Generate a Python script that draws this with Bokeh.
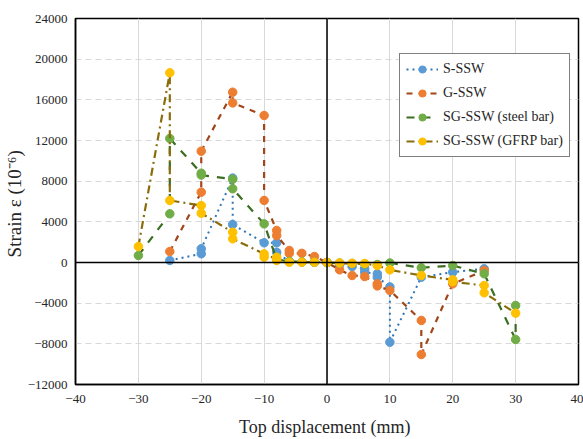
from bokeh.plotting import figure
from bokeh.models import FixedTicker, Span, Legend, LegendItem
from bokeh.embed import file_html
from bokeh.resources import INLINE

# ---- data ----
s_x = [-25, -20, -20, -15, -15, -10, -8, -8, -6, -4, -2, 0, 2, 4, 6, 6, 8, 8, 10, 10, 15, 20, 25]
s_y = [200, 860, 1350, 8300, 3740, 1940, 1940, 1000, 100, 50, 30, 0, -200, -400, -620, -950, -1110, -1440, -2400, -7840, -1440, -950, -620]

g_x = [-25, -20, -20, -15, -15, -10, -10, -8, -8, -6, -6, -4, -2, 0, 2, 4, 6, 8, 8, 10, 15, 15, 20, 25]
g_y = [1080, 6920, 10950, 16750, 15700, 14460, 6100, 3150, 2650, 1180, 900, 900, 590, 0, -720, -1280, -1380, -2100, -2300, -2750, -5700, -9050, -2100, -790]

sgs_x = [-30, -25, -25, -20, -20, -15, -15, -10, -8, -6, -4, -2, 0, 2, 4, 6, 8, 10, 15, 20, 25, 30, 30]
sgs_y = [690, 4790, 12200, 8780, 8600, 8200, 7250, 3800, 300, 100, 50, 30, 0, -50, -100, -150, -200, -50, -520, -300, -1110, -7570, -4230]

sgg_x = [-30, -25, -25, -20, -20, -15, -15, -10, -10, -8, -8, -6, -4, -2, 0, 2, 4, 6, 8, 10, 15, 20, 20, 25, 25, 30]
sgg_y = [1570, 18660, 6100, 5600, 4850, 2980, 2330, 850, 520, 520, 200, 30, 30, 30, 0, -50, -80, -100, -300, -720, -1280, -1700, -1900, -2260, -2980, -4980]

x_ticks = [-40, -30, -20, -10, 0, 10, 20, 30, 40]
y_ticks = [-12000, -8000, -4000, 0, 4000, 8000, 12000, 16000, 20000, 24000]

FONT = "Liberation Serif"

p = figure(width=583, height=439, x_range=(-40, 40), y_range=(-12000, 24000),
           output_backend="svg", toolbar_location=None,
           min_border_left=0, min_border_right=5, min_border_top=18, min_border_bottom=0)

p.background_fill_color = "white"
p.border_fill_color = "white"
p.outline_line_color = "black"
p.outline_line_width = 1.5

# grids
p.xgrid.ticker = FixedTicker(ticks=x_ticks)
p.ygrid.ticker = FixedTicker(ticks=y_ticks)
p.xgrid.grid_line_color = "#d9d9d9"
p.xgrid.grid_line_width = 1
p.ygrid.grid_line_color = "#d9d9d9"
p.ygrid.grid_line_dash = "6 4"
p.ygrid.grid_line_width = 1

# axes
for ax in (p.xaxis[0], p.yaxis[0]):
    ax.axis_line_color = "black"
    ax.axis_line_width = 1.5
    ax.major_tick_line_color = None
    ax.minor_tick_line_color = None
    ax.major_tick_out = 0
    ax.major_tick_in = 0
    ax.minor_tick_out = 0
    ax.minor_tick_in = 0
    ax.major_label_text_font = FONT
    ax.major_label_text_font_size = "13px"
    ax.major_label_text_color = "#262626"
    ax.axis_label_text_font = FONT
    ax.axis_label_text_font_style = "normal"
    ax.axis_label_text_color = "#262626"

p.xaxis.axis_label_text_font_size = "18px"
p.yaxis.axis_label_text_font_size = "19px"
p.xaxis.ticker = FixedTicker(ticks=x_ticks)
p.yaxis.ticker = FixedTicker(ticks=y_ticks)
p.xaxis.axis_label = "Top displacement  (mm)"
p.yaxis.axis_label = "Strain ε  (10⁻⁶)"
p.xaxis.major_label_standoff = 10
p.yaxis.major_label_standoff = 8
p.xaxis.axis_label_standoff = 11
p.yaxis.axis_label_standoff = 0

# zero lines
p.add_layout(Span(location=0, dimension="width", line_color="black", line_width=1.5))
p.add_layout(Span(location=0, dimension="height", line_color="black", line_width=1.5))

series = [
    ("S-SSW", s_x, s_y, "#2E75B6", "#5B9BD5", "dotted", 2),
    ("G-SSW", g_x, g_y, "#A0461A", "#ED7D31", "dashed", 2.2),
    ("SG-SSW (steel bar)", sgs_x, sgs_y, "#3B6E22", "#70AD47", "8 8", 2.2),
    ("SG-SSW (GFRP bar)", sgg_x, sgg_y, "#8A6D0B", "#FFC000", "8 4 2 4", 2.2),
]

items = []
for name, xs, ys, lc, mc, dash, lw in series:
    r1 = p.line(xs, ys, line_color=lc, line_dash=dash, line_width=lw)
    r2 = p.scatter(xs, ys, size=8.5, fill_color=mc, line_color=mc, marker="circle")
    items.append(LegendItem(label=name, renderers=[r1, r2]))

legend = Legend(items=items, location=(324, 227))
legend.label_text_font = FONT
legend.label_text_font_size = "14px"
legend.label_text_color = "#262626"
legend.border_line_color = "black"
legend.border_line_width = 1
legend.glyph_width = 32
legend.glyph_height = 18
legend.spacing = 6
legend.padding = 6
legend.margin = 0
legend.label_standoff = 5
legend.background_fill_alpha = 1
p.add_layout(legend)

open("out.html", "w").write(file_html(p, INLINE))
